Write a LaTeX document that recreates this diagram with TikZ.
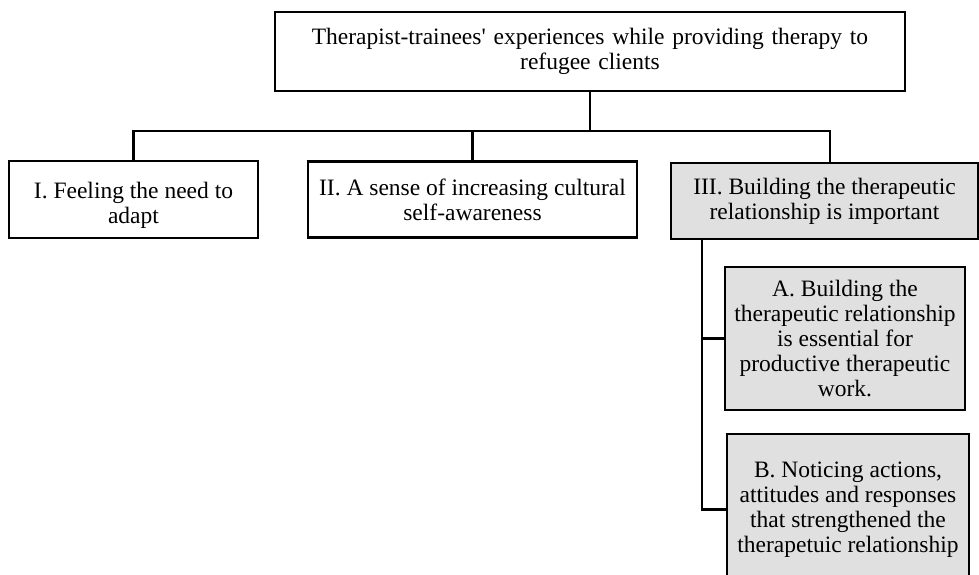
\documentclass[tikz,border=0pt]{standalone}
\usepackage{fontspec}
\setmainfont{Liberation Serif}[Ligatures=TeXOff]
\definecolor{boxgray}{RGB}{224,224,224}
\tikzset{
  box/.style={draw, line width=2.2pt, align=center, inner sep=0pt,
    font=\fontsize{23.5}{25}\selectfont},
  graybox/.style={box, fill=boxgray},
  conn/.style={line width=2.2pt},
  txt/.style={align=center, inner sep=0pt, font=\fontsize{23.5}{25}\selectfont}
}
\begin{document}
\begin{tikzpicture}[x=1pt,y=-1pt]
\useasboundingbox (0,0) rectangle (979,575);
\begin{scope}
\clip (0,0) rectangle (979,575);
\node[box, minimum width=630, minimum height=79, text width=620] (root) at (590,51.5)
  {Therapist-trainees' experiences while providing therapy to\\refugee clients};
\node[box, minimum width=249, minimum height=77] (b1) at (133.5,199.5) {};
\node[txt] (b1t) at ([yshift=-6pt]b1.center) {I. Feeling the need to\\adapt};
\node[box, minimum width=329, minimum height=76] (b2) at (472.5,199.5)
  {II. A sense of increasing cultural\\self-awareness};
\node[graybox, minimum width=307, minimum height=76] (b3) at (824.5,201)
  {III. Building the therapeutic\\relationship is important};
\node[graybox, minimum width=240, minimum height=143] (bA) at (845,338.5)
  {A. Building the\\therapeutic relationship\\is essential for\\productive therapeutic\\work.};
\node[graybox, minimum width=242, minimum height=151] (bB) at (848,509.5)
  {B. Noticing actions,\\attitudes and responses\\that strengthened the\\therapetuic relationship};
\coordinate (bus) at (590,131);
\coordinate (spine) at ([xshift=32pt]b3.south west);
\draw[conn] (root.south) -- (bus);
\draw[conn] (b1.north) |- (bus) -| ([xshift=5.5pt]b3.north);
\draw[conn] (b2.north) -- (b2.north |- bus);
\draw[conn] (spine) |- (bB.west);
\draw[conn] (spine |- bA.west) -- (bA.west);
\end{scope}
\end{tikzpicture}
\end{document}
